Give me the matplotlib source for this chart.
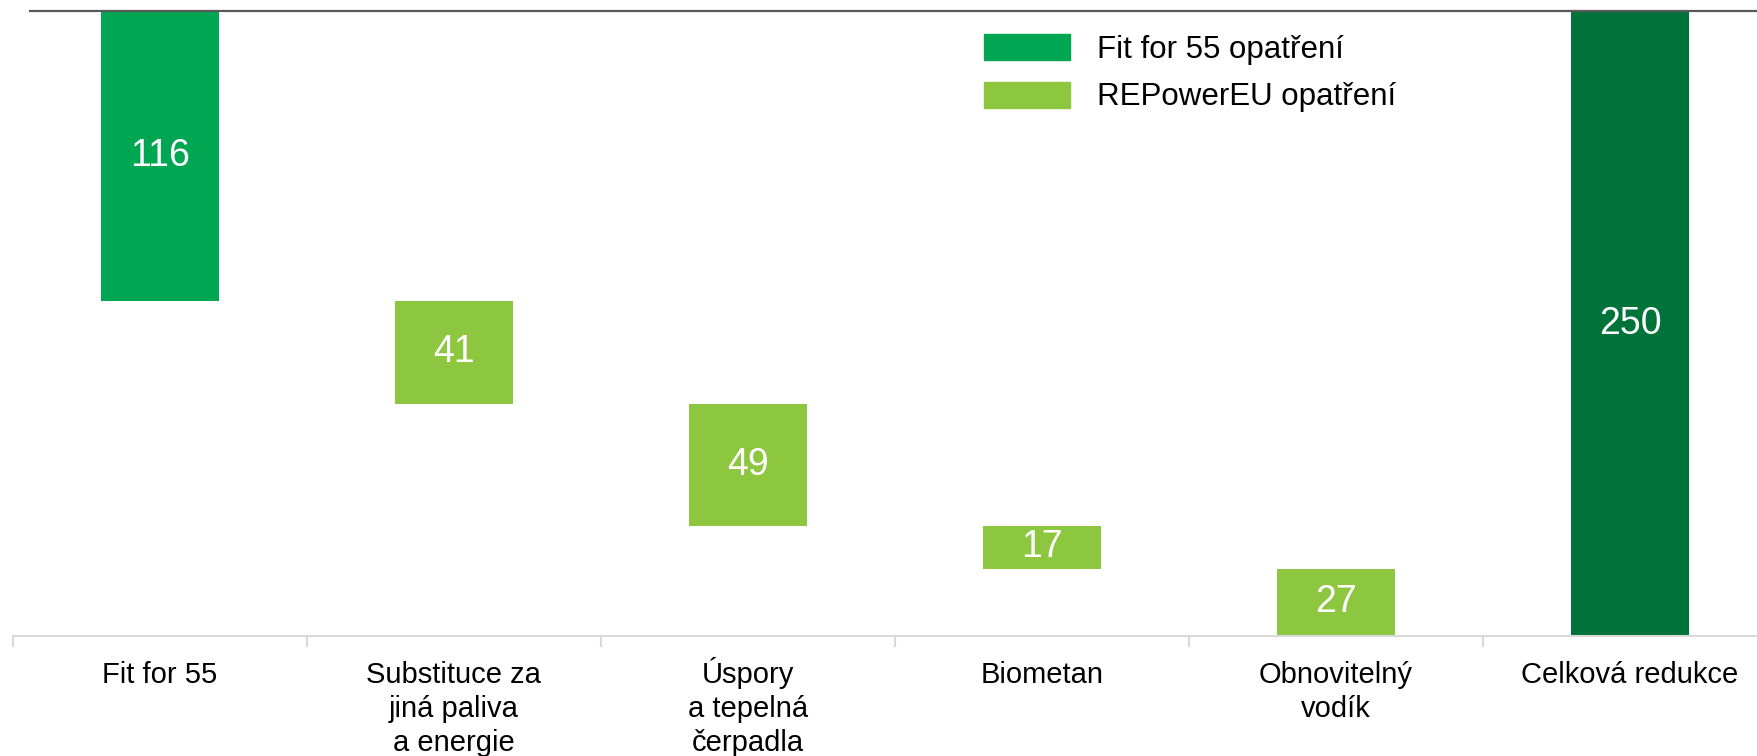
import matplotlib.pyplot as plt
import numpy as np
from matplotlib.patches import Patch

plt.rcParams['font.family'] = ['Liberation Sans', 'DejaVu Sans']

categories = ['Fit for 55', 'Substituce za\njiná paliva\na energie', 'Úspory\na tepelná\nčerpadla',
              'Biometan', 'Obnovitelný\nvodík', 'Celková redukce']
values = [116, 41, 49, 17, 27, 250]
kinds = ['fit', 'rep', 'rep', 'rep', 'rep', 'total']
legend_names = ['Fit for 55 opatření', 'REPowerEU opatření']

colors = {'fit': '#00A651', 'rep': '#8DC63F', 'total': '#00733A'}

# waterfall: each step starts where the previous one ended, total starts at 0
bottoms = []
run = 0
for v, k in zip(values, kinds):
    if k == 'total':
        bottoms.append(0)
    else:
        bottoms.append(run)
        run += v

W, H = 1757, 756
fig = plt.figure(figsize=(W / 100, H / 100), dpi=100)
ax = fig.add_axes([12.7 / W, 120 / H, 6 * 294.05 / W, 625 / H])

x = np.arange(len(values))
bars = ax.bar(x, values, bottom=bottoms, width=0.4, color=[colors[k] for k in kinds])
ax.bar_label(bars, labels=[str(v) for v in values], label_type='center', color='white', fontsize=27)

ax.set_xlim(-0.5, 5.5)
ax.set_ylim(250, 0)

for s in ['left', 'right', 'top']:
    ax.spines[s].set_visible(False)
ax.spines['bottom'].set_color('#D9D9D9')
ax.spines['bottom'].set_linewidth(1.5)
ax.axhline(0, xmin=0.01, xmax=1, color='#595959', lw=1.6, clip_on=False, zorder=3)

ax.set_yticks([])
ax.set_xticks(np.arange(-0.5, 6, 1))
ax.set_xticklabels([])
ax.tick_params(axis='x', which='major', length=8, width=1.5, color='#D9D9D9')

# category labels, one line at a time so the baselines line up
for xi, lab in zip(x, categories):
    for i, line in enumerate(lab.split('\n')):
        ax.annotate(line, (xi, 0), xycoords=('data', 'axes fraction'),
                    xytext=(0, -(47 + 34 * i) * 0.72), textcoords='offset points',
                    ha='center', va='baseline', fontsize=21, annotation_clip=False)

handles = [Patch(color=colors['fit']), Patch(color=colors['rep'])]
ax.legend(handles, legend_names, loc='upper left', bbox_to_anchor=(984 / W, 1 - 34 / H),
          bbox_transform=fig.transFigure, frameon=False, fontsize=22.5,
          handlelength=2.75, handleheight=0.9, handletextpad=0.86,
          labelspacing=0.54, borderpad=0, borderaxespad=0)

fig.savefig('out.png', dpi=100)
